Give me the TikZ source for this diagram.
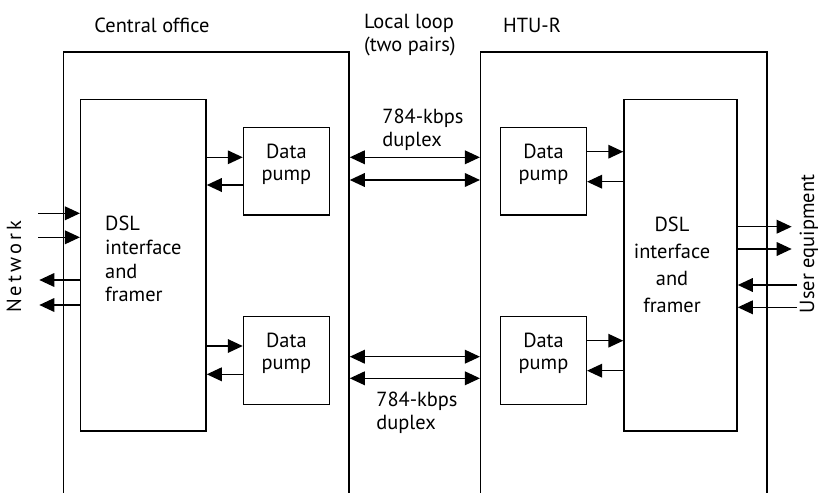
\documentclass[tikz,border=0pt]{standalone}
\usepackage{fontspec}
\setmainfont{PT Sans}
\usetikzlibrary{arrows.meta,fit}

\begin{document}
\begin{tikzpicture}[x=0.5pt, y=-0.5pt, line width=0.75pt, >={Triangle[length=7.5pt,width=6.8pt]}, font=\fontsize{10.2}{11.5}\selectfont]
	
	% Kiểu dùng chung cho các khối và nhãn
	\tikzset{
		block/.style={draw, inner sep=0pt},
		pumpbox/.style={block, align=left, font=\fontsize{10.2}{10.9}\selectfont},
		lbl/.style={inner sep=0pt, align=left}
	}
	
	\clip (0,0) rectangle (818,492);
	
	% ----------------------------------------------------
	% VỎ NGOÀI (hở ở phía dưới)
	% ----------------------------------------------------
	\node[block, fit={(63.3,52) (349,530)}] (coBox) {};
	\node[block, fit={(480.7,52) (767,530)}] (htuBox) {};
	
	% ----------------------------------------------------
	% KHỐI DSL VÀ DATA PUMP
	% ----------------------------------------------------
	\node[block, fit={(80.7,99.5) (206,431)}] (dslL) {};
	\node[block, fit={(624,99.5) (737,431)}] (dslR) {};
	\node[lbl, font=\fontsize{10.2}{11.85}\selectfont] (dslLtxt) at ([yshift=3pt]dslL.center) {DSL\\interface\\and\\framer};
	\node[lbl, align=center, font=\fontsize{10.2}{13.5}\selectfont] (dslRtxt) at ([xshift=-4.25pt]dslR.center) {DSL\\interface\\and\\framer};
	
	\node[pumpbox, fit={(243.5,127.5) (329.3,215)}] (pumpLa) {Data\\pump};
	\node[pumpbox, fit={(243.5,316.7) (329.3,404.3)}] (pumpLb) {Data\\pump};
	\node[pumpbox, fit={(500.7,127.7) (586.3,215)}] (pumpRa) {Data\\pump};
	\node[pumpbox, fit={(500.7,316.7) (586.3,404.3)}] (pumpRb) {Data\\pump};
	
	% Mũi tên bên trong Central office
	\draw[->] (dslL.east |- 0,157.3) -- (pumpLa.west |- 0,157.3);
	\draw[->] (pumpLa.west |- 0,185) -- (dslL.east |- 0,185);
	\draw[->] (dslL.east |- 0,346) -- (pumpLb.west |- 0,346);
	\draw[->] (pumpLb.west |- 0,374.3) -- (dslL.east |- 0,374.3);
	
	% Mũi tên bên trong HTU-R
	\draw[->] (pumpRa.east |- 0,151.7) -- (dslR.west |- 0,151.7);
	\draw[->] (dslR.west |- 0,181.7) -- (pumpRa.east |- 0,181.7);
	\draw[->] (pumpRb.east |- 0,340.7) -- (dslR.west |- 0,340.7);
	\draw[->] (dslR.west |- 0,370.7) -- (pumpRb.east |- 0,370.7);
	
	% ----------------------------------------------------
	% LOCAL LOOP (hai đôi dây song công)
	% ----------------------------------------------------
	\foreach \yy in {157.3,180,356.7,378.3}
		\draw[<->] (coBox.east |- 0,\yy) -- (htuBox.west |- 0,\yy);
	
	% ----------------------------------------------------
	% ĐƯỜNG VÀO / RA PHÍA NGOÀI
	% ----------------------------------------------------
	\coordinate (netIn1) at (38.3,213.3);
	\coordinate (netIn2) at (38.3,237.3);
	\coordinate (netOut1) at (39.3,280);
	\coordinate (netOut2) at (39.3,305);
	\draw[->] (netIn1) -- (dslL.west |- netIn1);
	\draw[->] (netIn2) -- (dslL.west |- netIn2);
	\draw[->] (dslL.west |- netOut1) -- (netOut1);
	\draw[->] (dslL.west |- netOut2) -- (netOut2);
	
	\coordinate (ueOut1) at (791.7,226.7);
	\coordinate (ueOut2) at (791.7,249);
	\coordinate (ueIn1) at (796.7,285);
	\coordinate (ueIn2) at (796.7,307.3);
	\draw[->] (dslR.east |- ueOut1) -- (ueOut1);
	\draw[->] (dslR.east |- ueOut2) -- (ueOut2);
	\draw[->] (ueIn1) -- (dslR.east |- ueIn1);
	\draw[->] (ueIn2) -- (dslR.east |- ueIn2);
	
	% ----------------------------------------------------
	% NHÃN
	% ----------------------------------------------------
	\node[lbl] (coLbl) at (152,25) {Central office};
	\node[lbl, anchor=north west] (loopLbl) at (363.3,13) {Local loop\\(two pairs)};
	\node[lbl] (htuLbl) at (532,25) {HTU-R};
	\node[lbl, anchor=north west] (rateTop) at (381.7,108) {784-kbps\\duplex};
	\node[lbl, anchor=north west] (rateBot) at (375.7,391.7) {784-kbps\\duplex};
	\node[lbl, rotate=90, font=\fontsize{10.2}{11.5}\selectfont\addfontfeatures{LetterSpace=15}] (netLbl) at (14,267) {Network};
	\node[lbl, rotate=90] (ueLbl) at (809,244) {User equipment};
	
\end{tikzpicture}
\end{document}
